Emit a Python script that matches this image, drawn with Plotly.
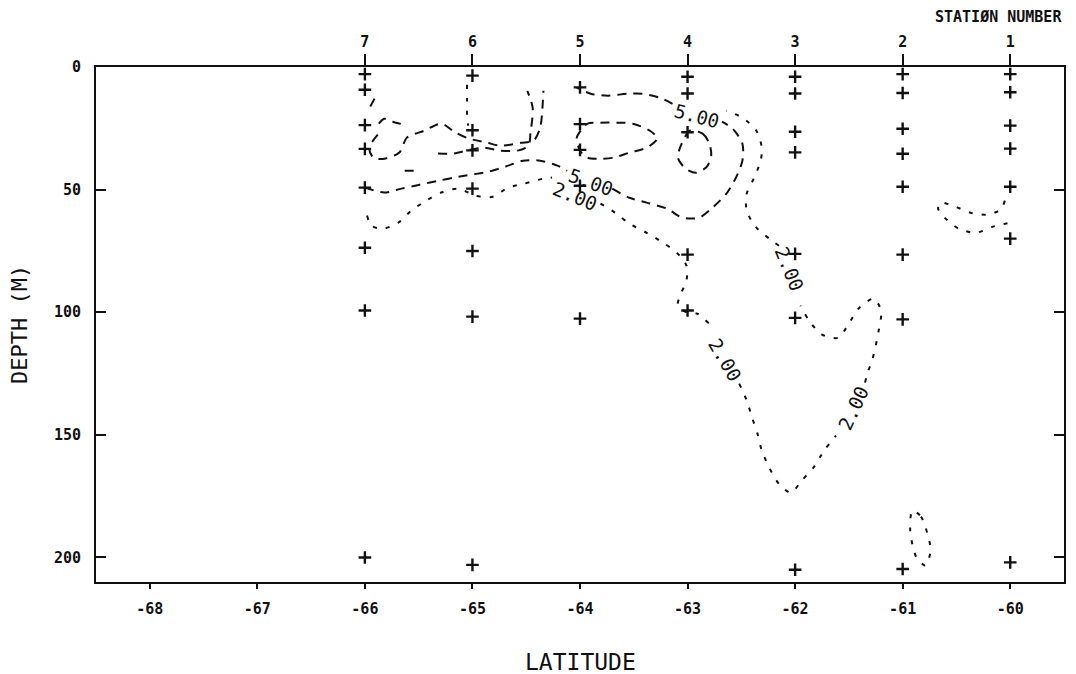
import plotly.graph_objects as go

# ---------------- data ----------------
lat_ticks = [-68, -67, -66, -65, -64, -63, -62, -61, -60]
lat_tick_labels = ["-68", "-67", "-66", "-65", "-64", "-63", "-62", "-61", "-60"]
depth_ticks = [0, 50, 100, 150, 200]
depth_tick_labels = ["0", "50", "100", "150", "200"]
station_lats = [-66, -65, -64, -63, -62, -61, -60]
station_labels = ["7", "6", "5", "4", "3", "2", "1"]

# sample depths (m) at each station
st7_depth = [2.9, 9.3, 23.7, 33.4, 49.2, 73.7, 99.3, 200.0]
st6_depth = [3.5, 25.8, 34.0, 49.6, 75.0, 101.8, 203.0]
st5_depth = [8.3, 23.3, 33.8, 48.4, 102.6]
st4_depth = [4.0, 10.8, 26.6, 76.5, 99.3]
st3_depth = [4.0, 10.8, 26.4, 34.8, 76.2, 102.3, 205.0]
st2_depth = [2.9, 10.6, 25.2, 35.4, 48.8, 76.5, 102.9, 204.7]
st1_depth = [2.9, 10.3, 23.9, 33.3, 48.8, 70.0, 202.0]

# 5.00 isoline pieces (lat, depth)
iso5_a_lat = [-66.00, -65.82, -65.66, -65.49, -65.32, -65.17, -65.01, -64.85, -64.69, -64.53, -64.37, -64.21, -64.12]
iso5_a_dep = [49.2, 51.2, 49.6, 48.0, 46.4, 45.1, 43.9, 42.7, 40.6, 38.2, 38.2, 40.2, 42.3]
iso5_b_lat = [-63.70, -63.54, -63.38, -63.19, -63.05, -62.89, -62.77, -62.64, -62.55, -62.49, -62.49, -62.58, -62.68]
iso5_b_dep = [49.6, 53.3, 55.3, 57.8, 61.4, 61.4, 57.4, 51.7, 45.1, 38.2, 31.3, 25.2, 22.3]
iso5_c_lat = [-63.14, -63.26, -63.42, -63.56, -63.74, -63.90, -64.03]
iso5_c_dep = [15.0, 12.5, 10.9, 10.9, 11.7, 10.9, 8.4]
iso5_d_lat = [-65.88, -65.96, -65.92, -65.82, -65.68, -65.61, -65.45, -65.29, -65.17, -65.04, -64.86, -64.74, -64.55, -64.43, -64.37, -64.35, -64.34]
iso5_d_dep = [27.6, 32.9, 37.0, 37.4, 34.9, 28.8, 26.0, 23.1, 26.4, 29.1, 30.9, 32.1, 30.9, 30.0, 24.7, 17.0, 9.7]
iso5_e_lat = [-65.32, -65.17, -65.02, -64.89, -64.74, -64.58, -64.48, -64.46, -64.44, -64.49]
iso5_e_dep = [35.3, 35.3, 33.7, 32.9, 34.1, 34.1, 32.1, 26.8, 16.6, 9.7]
iso5_f_lat = [-65.63, -65.53]
iso5_f_dep = [42.3, 42.3]
iso5_g_lat = [-65.91, -65.98]
iso5_g_dep = [12.9, 18.6]
iso5_h_lat = [-65.87, -65.82, -65.74, -65.64]
iso5_h_dep = [23.1, 21.1, 22.3, 23.5]
iso5_i_lat = [-63.93, -63.81, -63.66, -63.51, -63.35, -63.28, -63.38, -63.54, -63.69, -63.81, -63.93, -64.00, -64.03, -63.98, -63.93]
iso5_i_dep = [23.1, 22.7, 22.7, 23.1, 26.0, 29.1, 32.9, 34.9, 37.0, 37.4, 37.0, 34.1, 28.8, 25.2, 23.1]
iso5_j_lat = [-62.98, -62.86, -62.80, -62.78, -62.82, -62.92, -63.02, -63.09, -63.07, -63.04, -62.98]
iso5_j_dep = [26.0, 27.2, 30.9, 36.1, 40.6, 43.1, 41.4, 37.0, 32.9, 30.0, 26.0]

# 2.00 isoline pieces (lat, depth)
iso2_a_lat = [-65.98, -65.94, -65.83, -65.69, -65.57, -65.43, -65.29, -65.13, -64.97, -64.81, -64.67, -64.52, -64.35, -64.26]
iso2_a_dep = [60.6, 64.7, 65.9, 63.5, 58.6, 54.5, 51.2, 49.6, 52.5, 52.9, 49.2, 47.6, 45.6, 45.1]
iso2_b_lat = [-63.81, -63.66, -63.54, -63.38, -63.23, -63.10, -63.01, -63.01, -63.07, -63.09, -63.00, -62.91, -62.80]
iso2_b_dep = [55.7, 59.8, 63.9, 67.6, 71.6, 75.7, 81.0, 87.1, 93.2, 97.3, 100.2, 100.6, 104.6]
iso2_c_lat = [-62.52, -62.45, -62.40, -62.35, -62.31, -62.24, -62.15, -62.04, -61.94, -61.83, -61.73, -61.62]
iso2_c_dep = [129.1, 136.0, 143.0, 149.5, 156.4, 163.4, 170.0, 173.6, 168.7, 163.4, 156.4, 150.3]
iso2_d_lat = [-61.35, -61.32, -61.29, -61.25, -61.22, -61.20, -61.27, -61.41, -61.50, -61.60, -61.75, -61.87, -61.95]
iso2_d_dep = [128.7, 123.8, 120.5, 113.6, 106.7, 99.4, 94.5, 98.5, 104.6, 110.4, 109.1, 103.4, 97.3]
iso2_e_lat = [-62.15, -62.24, -62.36, -62.45, -62.45, -62.38, -62.32, -62.31, -62.36, -62.49, -62.64]
iso2_e_dep = [72.9, 70.0, 65.5, 58.6, 51.7, 45.1, 38.2, 32.9, 26.0, 20.7, 17.8]
iso2_f_lat = [-65.05, -65.05, -65.05, -65.04]
iso2_f_dep = [7.2, 13.5, 19.9, 23.9]
iso2_g_lat = [-60.05, -60.09, -60.22, -60.37, -60.53, -60.65, -60.67, -60.61, -60.48, -60.32, -60.16, -60.00]
iso2_g_dep = [54.5, 58.2, 60.2, 59.4, 56.6, 55.3, 57.8, 61.4, 65.9, 67.6, 65.1, 63.5]
iso2_h_lat = [-60.91, -60.83, -60.77, -60.74, -60.79, -60.87, -60.90, -60.93, -60.91]
iso2_h_dep = [180.9, 183.3, 190.3, 197.2, 203.3, 200.1, 196.4, 189.0, 180.9]

# isoline labels
label_text = ["5.00", "5.00", "2.00", "2.00", "2.00", "2.00"]
label_lat = [-63.90, -62.91, -64.05, -62.65, -61.46, -62.05]
label_dep = [47.0, 19.9, 52.8, 119.5, 138.9, 82.2]

# ---------------- styling ----------------
label_angle = [20, 15, 22, 60, -65, 68]
MONO = "DejaVu Sans Mono"
BLK = "#111111"
dash5 = "9px,7px"
dash2 = "4px,9px"

fig = go.Figure()

iso5 = [(iso5_a_lat, iso5_a_dep), (iso5_b_lat, iso5_b_dep), (iso5_c_lat, iso5_c_dep),
        (iso5_d_lat, iso5_d_dep), (iso5_e_lat, iso5_e_dep), (iso5_f_lat, iso5_f_dep),
        (iso5_g_lat, iso5_g_dep), (iso5_h_lat, iso5_h_dep), (iso5_i_lat, iso5_i_dep),
        (iso5_j_lat, iso5_j_dep)]
iso2 = [(iso2_a_lat, iso2_a_dep), (iso2_b_lat, iso2_b_dep), (iso2_c_lat, iso2_c_dep),
        (iso2_d_lat, iso2_d_dep), (iso2_e_lat, iso2_e_dep), (iso2_f_lat, iso2_f_dep),
        (iso2_g_lat, iso2_g_dep), (iso2_h_lat, iso2_h_dep)]

for xs, ys in iso5:
    fig.add_trace(go.Scatter(x=xs, y=ys, mode="lines", showlegend=False, hoverinfo="skip",
                             line=dict(color=BLK, width=2, dash=dash5, shape="spline", smoothing=0.8)))
for xs, ys in iso2:
    fig.add_trace(go.Scatter(x=xs, y=ys, mode="lines", showlegend=False, hoverinfo="skip",
                             line=dict(color=BLK, width=2, dash=dash2, shape="spline", smoothing=0.8)))

station_depths = [st7_depth, st6_depth, st5_depth, st4_depth, st3_depth, st2_depth, st1_depth]
mx, my = [], []
for lat, deps in zip(station_lats, station_depths):
    for d in deps:
        mx.append(lat)
        my.append(d)
fig.add_trace(go.Scatter(x=mx, y=my, mode="markers", xaxis="x2", showlegend=False,
                         marker=dict(symbol="cross-thin", size=9, color=BLK,
                                     line=dict(color=BLK, width=2.4))))

for t, la, de, ang in zip(label_text, label_lat, label_dep, label_angle):
    fig.add_annotation(x=la, y=de, text=t, showarrow=False, textangle=ang,
                       font=dict(family=MONO, size=19, color=BLK))

fig.add_annotation(xref="paper", yref="paper", x=-0.079, xanchor="center", y=0.5, yanchor="middle",
                   text="DEPTH (M)", showarrow=False, textangle=-90,
                   font=dict(family=MONO, size=22, color=BLK))
fig.add_annotation(xref="paper", yref="paper", x=0.5, xanchor="center", y=-0.155, yanchor="middle",
                   text="LATITUDE", showarrow=False, font=dict(family=MONO, size=23, color=BLK))
fig.add_annotation(xref="paper", yref="paper", x=1.0, xanchor="right", y=1.097, yanchor="middle",
                   text="STATIØN NUMBER", showarrow=False,
                   font=dict(family=MONO, size=15, color=BLK, weight="bold"))

rng = [-68.5, -59.5]
tickfont = dict(family=MONO, size=15, color=BLK, weight="bold")
fig.update_layout(
    width=1076, height=674,
    margin=dict(l=96, r=10, t=67, b=92),
    paper_bgcolor="white", plot_bgcolor="white",
    xaxis=dict(range=rng, tickvals=lat_ticks, ticktext=lat_tick_labels, ticks="outside",
               ticklen=5, tickwidth=2, tickcolor=BLK, showline=True, linewidth=2, linecolor=BLK,
               showgrid=False, zeroline=False, tickfont=tickfont, ticklabelstandoff=7),
    xaxis2=dict(range=rng, overlaying="x", side="top", tickvals=station_lats, ticktext=station_labels,
                ticks="outside", ticklen=11, tickwidth=2, tickcolor=BLK, showline=True, linewidth=2,
                linecolor=BLK, showgrid=False, zeroline=False, tickfont=tickfont, ticklabelstandoff=1),
    yaxis=dict(range=[210, 0], tickvals=depth_ticks, ticktext=depth_tick_labels, ticks="inside",
               ticklen=10, tickwidth=2, tickcolor=BLK, showline=True, linewidth=2, linecolor=BLK,
               mirror="ticks", showgrid=False, zeroline=False, tickfont=tickfont, ticklabelstandoff=10),
)

fig.write_html("out.html")
